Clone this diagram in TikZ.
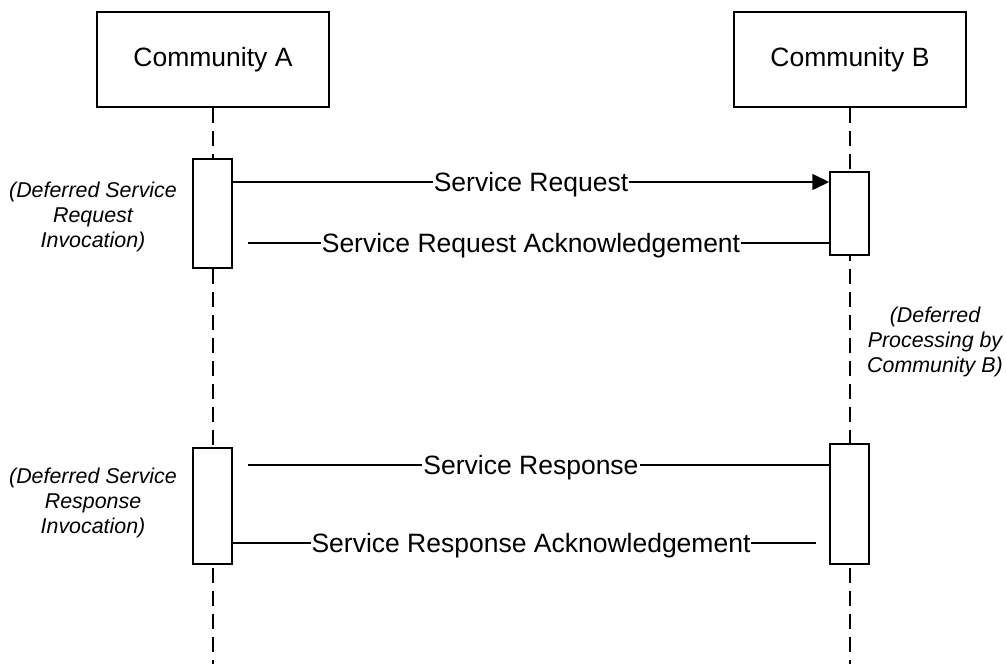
\documentclass[tikz,border=0pt]{standalone}
\usepackage{fontspec}
\setmainfont{Liberation Sans}
\usetikzlibrary{arrows.meta}
\tikzset{
  party/.style={draw, line width=1.5pt, minimum width=232pt, minimum height=95pt, font=\fontsize{26.5}{30}\selectfont},
  act/.style={draw, fill=white, line width=1.5pt, minimum width=39pt, inner sep=0pt, anchor=north},
  msg/.style={fill=white, inner xsep=1pt, inner ysep=0pt, anchor=base, font=\fontsize{26.5}{30}\selectfont},
  note/.style={align=center, font=\fontsize{21.4}{25}\selectfont\itshape},
  life/.style={line width=1.5pt, dash pattern=on 15pt off 8pt},
  call/.style={line width=1.5pt},
}
\begin{document}
\begin{tikzpicture}[x=1pt,y=-1pt]
  \useasboundingbox (0,0) rectangle (1006,664);

  \node[party] (comA) at (213,59.5) {Community A};
  \node[party] (comB) at (850,59.5) {Community B};
  \coordinate (endA) at (213,664);
  \coordinate (endB) at (850,664);

  % lifelines
  \draw[life] (comA.south) -- (endA);
  \draw[life] (comB.south) -- (endB);

  % activations
  \node[act, minimum height=109pt] (actA1) at (212.5,158) {};
  \node[act, minimum height=83pt] (actB1) at (849.5,171) {};
  \node[act, minimum height=116pt] (actA2) at (212.5,447) {};
  \node[act, minimum height=120pt] (actB2) at (849.5,443) {};

  % messages
  \coordinate (reqY) at (0,182);
  \coordinate (ackA) at (248,243);
  \coordinate (rspA) at (248,465);
  \coordinate (rakB) at (816,543);

  \draw[call, -{Triangle[length=17pt,width=16pt]}] (actA1.east |- reqY) -- (actB1.west |- reqY);
  \draw[call] (ackA) -- (ackA -| actB1.west);
  \draw[call] (rspA) -- (rspA -| actB2.west);
  \draw[call] (rakB -| actA2.east) -- (rakB);

  \node[msg] (lreq) at (531,191.5) {Service Request};
  \node[msg] (lack) at (531,252.5) {Service Request Acknowledgement};
  \node[msg] (lrsp) at (531,474.5) {Service Response};
  \node[msg] (lrak) at (531,552.5) {Service Response Acknowledgement};

  % notes
  \node[note] (dsri) at (93,217) {(Deferred Service\\Request\\Invocation)};
  \node[note] (dpcb) at (935,342) {(Deferred\\Processing by\\Community B)};
  \node[note] (dsrs) at (93,503) {(Deferred Service\\Response\\Invocation)};
\end{tikzpicture}
\end{document}
